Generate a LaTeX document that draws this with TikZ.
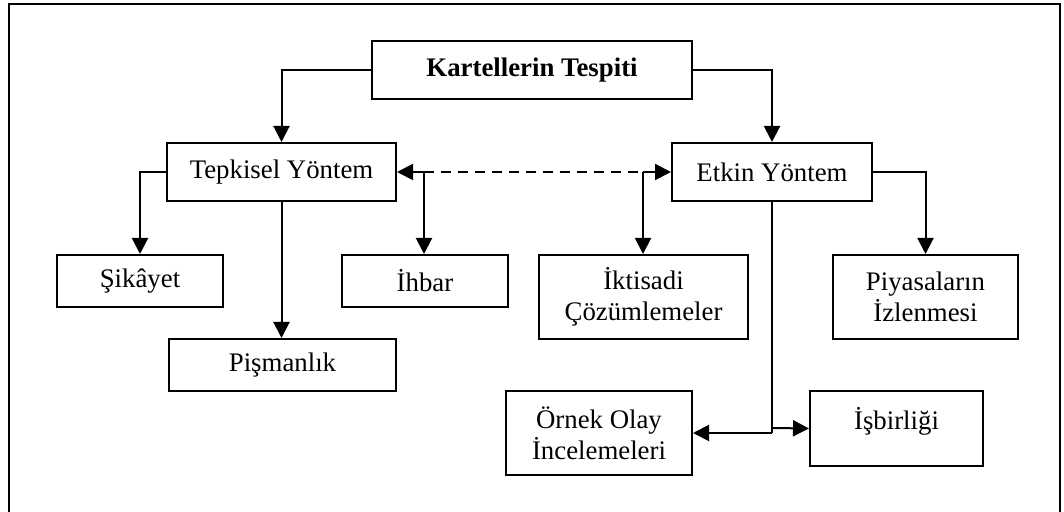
\documentclass[tikz,border=0pt]{standalone}
\usepackage{fontspec}
\setmainfont{Liberation Serif}
\usetikzlibrary{arrows.meta}
\begin{document}
\begin{tikzpicture}[x=0.5pt,y=-0.5pt,
  box/.style={draw,line width=1pt,align=center,inner sep=0pt,
    font=\fontsize{13.4}{15.5}\selectfont},
  arr/.style={line width=1pt,-{Triangle[length=8pt,width=8pt]}},
  link/.style={line width=1pt},
  frame/.style={line width=1pt}]
\useasboundingbox (0,0) rectangle (1064,512);
% outer frame, open at the bottom
\draw[frame] (9,512) -- (9,4) -- (1060,4) -- (1060,512);

% boxes
\node[box,minimum width=160pt,minimum height=29pt,font=\fontsize{13.4}{15.5}\selectfont\bfseries] (top) at (532,70) {Kartellerin Tespiti};
\node[box,minimum width=114.5pt,minimum height=29pt] (tep) at (281.5,172) {Tepkisel Yöntem};
\node[box,minimum width=100pt,minimum height=29pt] (etk) at (772,172) {Etkin Yöntem};
\node[box,minimum width=83pt,minimum height=26pt] (sik) at (140,281) {Şikâyet};
\node[box,minimum width=83pt,minimum height=26pt] (ihb) at (425,281) {İhbar};
\node[box,minimum width=113.5pt,minimum height=26pt] (pis) at (282.5,365) {Pişmanlık};
\node[box,minimum width=104.5pt,minimum height=42pt] (ikt) at (643.5,297) {İktisadi\\Çözümlemeler};
\node[box,minimum width=92.5pt,minimum height=42pt] (piy) at (925.5,297) {Piyasaların\\İzlenmesi};
\node[box,minimum width=93pt,minimum height=42pt] (orn) at (599,433) {Örnek Olay\\İncelemeleri};
\node[box,minimum width=86.5pt,minimum height=37.5pt] (isb) at (896.5,428.5) {};
\node[font=\fontsize{13.4}{15.5}\selectfont] (isbt) at (896.5,421) {İşbirliği};

% branch points
\coordinate (jl) at (424,172);
\coordinate (jr) at (643,172);
\coordinate (jb) at (772,433);
\coordinate (jb2) at (772,428);

% connectors
\draw[arr] (top.west) -| (tep.north);
\draw[arr] (top.east) -| (etk.north);
\draw[arr] (tep.west) -| (sik.north);
\draw[arr] (tep.south) -- (tep.south |- pis.north);
\draw[arr] (jl) -- (tep.east);
\draw[arr] (jr) -- (etk.west);
\draw[link,dashed,dash pattern=on 5pt off 3.5pt] (jl) -- (jr);
\draw[arr] (jl) -- (jl |- ihb.north);
\draw[arr] (jr) -- (jr |- ikt.north);
\draw[arr] (etk.east) -| (piy.north);
\draw[link] (etk.south) -- (jb);
\draw[arr] (jb) -- (orn.east);
\draw[arr] (jb2) -- (isb.west);
\end{tikzpicture}
\end{document}
